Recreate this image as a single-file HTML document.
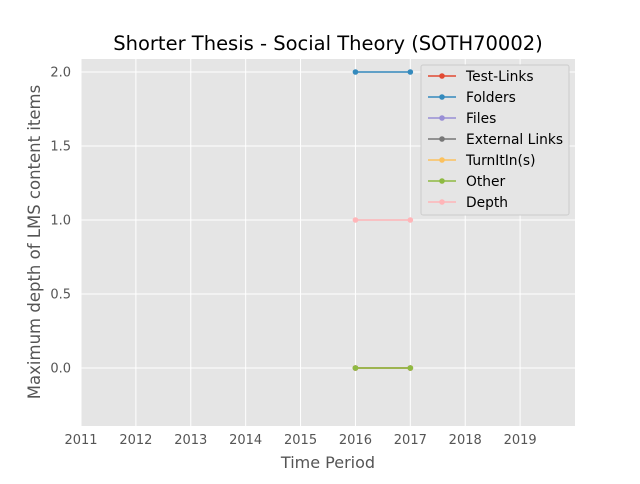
<!DOCTYPE html>
<html><head><meta charset="utf-8"><style>
body{margin:0;background:#fff;font-family:"DejaVu Sans","Liberation Sans",sans-serif;}
</style></head><body>
<svg id="chart" width="640" height="480" xmlns="http://www.w3.org/2000/svg">
<rect width="640" height="480" fill="#fff"/>
<text x="328" y="50" text-anchor="middle" font-size="19.5" fill="#000">Shorter Thesis - Social Theory (SOTH70002)</text>
<rect x="81" y="59" width="494" height="367" fill="#E5E5E5"/>
<g id="grid"></g><g id="ticks"></g><g id="series"></g>
<text x="328" y="468" text-anchor="middle" font-size="16" fill="#555">Time Period</text>
<text transform="translate(40,242) rotate(-90)" text-anchor="middle" font-size="16.5" fill="#555">Maximum depth of LMS content items</text>
<g id="legend"></g>
</svg>
<script>
const categories=[2016,2017];
const seriesNames=["Test-Links","Folders","Files","External Links","TurnItIn(s)","Other","Depth"];
const testLinks=[0,0];
const folders=[2,2];
const files=[0,0];
const externalLinks=[0,0];
const turnitin=[0,0];
const other=[0,0];
const depth=[1,1];
const xTicks=[2011,2012,2013,2014,2015,2016,2017,2018,2019];
const yTicks=[0.0,0.5,1.0,1.5,2.0];
const colors=["#E24A33","#348ABD","#988ED5","#777777","#FBC15E","#8EBA42","#FFB5B8"];
const allSeries=[testLinks,folders,files,externalLinks,turnitin,other,depth];
const NS="http://www.w3.org/2000/svg";
const X=v=>81+(v-2011)*(494/9);
const Y=v=>368-v*148;
function mk(t,a,p){const e=document.createElementNS(NS,t);for(const k in a)e.setAttribute(k,a[k]);p.appendChild(e);return e;}
const g=document.getElementById('grid'),tk=document.getElementById('ticks'),s=document.getElementById('series'),lg=document.getElementById('legend');
xTicks.forEach(v=>{const l=mk('line',{x1:X(v),x2:X(v),y1:59,y2:426,stroke:'#fff','stroke-width':1},g);


const t=mk('text',{x:X(v),y:444,'text-anchor':'middle','font-size':13,fill:'#555'},tk);t.textContent=v;

});
yTicks.forEach(v=>{const l=mk('line',{x1:81,x2:575,y1:Y(v),y2:Y(v),stroke:'#fff','stroke-width':1},g);


const t=mk('text',{x:71,y:Y(v)+4.5,'text-anchor':'end','font-size':13,fill:'#555'},tk);t.textContent=v.toFixed(1);

});
allSeries.forEach((d,i)=>{const pts=d.map((v,j)=>X(categories[j])+','+Y(v)).join(' ');
const pl=mk('polyline',{points:pts,fill:'none',stroke:colors[i],'stroke-width':1.5},s);


d.forEach((v,j)=>{const c=mk('circle',{cx:X(categories[j]),cy:Y(v),r:2.8,fill:colors[i]},s);

});});
const box=mk('rect',{x:421,y:65,width:148,height:150,fill:'#E5E5E5',stroke:'#ccc','stroke-width':1,rx:2},lg);


seriesNames.forEach((n,i)=>{const y=76+i*21;
mk('line',{x1:428,x2:456,y1:y,y2:y,stroke:colors[i],'stroke-width':1.5},lg);
mk('circle',{cx:442,cy:y,r:2.8,fill:colors[i]},lg);
const t=mk('text',{x:466,y:y+5,'font-size':13.8,fill:'#000'},lg);t.textContent=n;

});
</script>
</body></html>
